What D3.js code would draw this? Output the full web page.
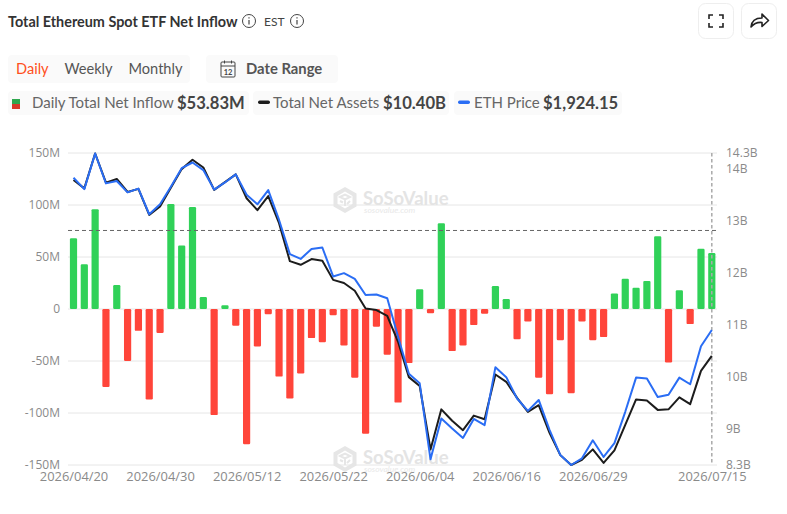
<!DOCTYPE html>
<html>
<head>
<meta charset="utf-8">
<script src="https://cdn.jsdelivr.net/npm/d3@7"></script>
<style>
html, body { margin: 0; padding: 0; background: #fff; overflow: hidden; }
text { font-family: Lato, sans-serif; }
</style>
</head>
<body>
<script>
var dates = ['2026/04/20','2026/04/21','2026/04/22','2026/04/23','2026/04/24','2026/04/27','2026/04/28','2026/04/29','2026/04/30','2026/05/01',
	'2026/05/04','2026/05/05','2026/05/06','2026/05/07','2026/05/08','2026/05/11','2026/05/12','2026/05/13','2026/05/14','2026/05/15',
	'2026/05/18','2026/05/19','2026/05/20','2026/05/21','2026/05/22','2026/05/26','2026/05/27','2026/05/28','2026/05/29','2026/06/01',
	'2026/06/02','2026/06/03','2026/06/04','2026/06/05','2026/06/08','2026/06/09','2026/06/10','2026/06/11','2026/06/12','2026/06/15',
	'2026/06/16','2026/06/17','2026/06/18','2026/06/22','2026/06/23','2026/06/24','2026/06/25','2026/06/26','2026/06/29','2026/06/30',
	'2026/07/01','2026/07/02','2026/07/06','2026/07/07','2026/07/08','2026/07/09','2026/07/10','2026/07/13','2026/07/14','2026/07/15'];

var netInflow = [68,43,96,-75,23,-50,-21,-87,-23,101,
	61,98,11.5,-102,3.5,-16,-130,-36,-5,-65,
	-86,-62,-28,-32,-6,-35,-66,-120,-17,-44,
	-90,-52,19,-4,82.5,-40.5,-35,-15.5,-4.5,22,
	9.5,-29,-12,-66,-82,-30,-81,-12,-30,-27,
	15,29,20.5,27,70,-51.5,18,-14.5,58,53.83];

var netAssets = [13.78,13.62,14.29,13.73,13.80,13.55,13.61,13.11,13.27,13.63,
	13.99,14.17,14.02,13.59,13.74,13.89,13.43,13.20,13.47,12.95,
	12.22,12.15,12.26,12.23,11.86,11.80,11.65,11.31,11.28,11.17,
	10.67,9.99,9.82,8.60,9.37,9.15,8.97,9.25,9.18,10.04,
	9.90,9.59,9.32,9.45,8.92,8.49,8.30,8.40,8.60,8.34,
	8.58,9.07,9.56,9.54,9.36,9.37,9.60,9.47,10.11,10.40];

var ethPrice = [2245,2221,2296,2233,2238,2214,2222,2168,2189,2226,
	2265,2277,2261,2220,2235,2252,2209,2189,2219,2156,
	2084,2074,2095,2098,2037,2044,2032,1998,1999,1991,
	1910,1832,1812,1652,1738,1717,1697,1737,1724,1846,
	1825,1780,1754,1777,1714,1661,1640,1654,1692,1657,
	1686,1752,1824,1822,1783,1788,1824,1810,1890,1924.15];

var dateTicks = ['2026/04/20','2026/04/30','2026/05/12','2026/05/22','2026/06/04','2026/06/16','2026/06/29','2026/07/15'];
var inflowTicks = [150,100,50,0,-50,-100,-150];
var assetTicks = [8.3,9,10,11,12,13,14,14.3];
var crosshairInflow = 75.5;

var width = 787, height = 514;
var svg = d3.select('body').append('svg').attr('width', width).attr('height', height).style('display', 'block');

var x = d3.scalePoint().domain(dates).range([73.5, 711.8]);
var yInflow = d3.scaleLinear().domain([-150, 150]).range([465, 153]);
var yAssets = d3.scaleLinear().domain([8.3, 14.3]).range([465, 153]);
var yPrice = d3.scaleLinear().domain([1640, 2297]).range([465, 153]);

// header
svg.append('text').attr('x', 8).attr('y', 26.5).attr('fill', '#333').attr('font-size', 14.4).attr('font-weight', 700).text('Total Ethereum Spot ETF Net Inflow');
svg.append('text').attr('x', 264).attr('y', 25.5).attr('fill', '#444').attr('font-size', 12).text('EST');

function infoIcon(cx, cy) {
	var g = svg.append('g').attr('transform', 'translate(' + cx + ',' + cy + ')').attr('stroke', '#444').attr('fill', 'none');
	g.append('circle').attr('r', 6.5).attr('stroke-width', 1);
	g.append('line').attr('y1', -1).attr('y2', 3.5).attr('stroke-width', 1.2);
	g.append('line').attr('y1', -3.8).attr('y2', -2.6).attr('stroke-width', 1.2);
}
infoIcon(249, 21);
infoIcon(297, 21);

// buttons top right
[698, 741].forEach(function (bx) {
	svg.append('rect').attr('x', bx + 0.5).attr('y', 3.5).attr('width', 35).attr('height', 35).attr('rx', 7).attr('fill', '#fff').attr('stroke', '#eee');
});
svg.append('path').attr('d', 'M709 19v-4h4 M719 15h4v4 M723 23v4h-4 M713 27h-4v-4').attr('fill', 'none').attr('stroke', '#222').attr('stroke-width', 1.6);
svg.append('path').attr('d', 'M751 27c0.5-5.5 4.5-9 11-9v-4l6.5 6.5-6.5 6v-4c-4.5-0.5-8 1-11 4.5z').attr('fill', 'none').attr('stroke', '#222').attr('stroke-width', 1.6).attr('stroke-linejoin', 'round');

// period pills
svg.append('rect').attr('x', 8).attr('y', 55).attr('width', 182).attr('height', 28).attr('rx', 4).attr('fill', '#fafafa');
svg.append('rect').attr('x', 206).attr('y', 55).attr('width', 132).attr('height', 28).attr('rx', 4).attr('fill', '#fafafa');
svg.append('text').attr('x', 16).attr('y', 74).attr('font-size', 14.6).attr('fill', '#ff4f20').text('Daily');
svg.append('text').attr('x', 64.5).attr('y', 74).attr('font-size', 14.6).attr('fill', '#555').text('Weekly');
svg.append('text').attr('x', 128.5).attr('y', 74).attr('font-size', 14.6).attr('fill', '#555').text('Monthly');
svg.append('text').attr('x', 246).attr('y', 74).attr('font-size', 14.8).attr('font-weight', 700).attr('fill', '#555').text('Date Range');

var cal = svg.append('g').attr('fill', 'none').attr('stroke', '#444').attr('stroke-width', 1);
cal.append('rect').attr('x', 221).attr('y', 62).attr('width', 14).attr('height', 15).attr('rx', 1);
cal.append('path').attr('d', 'M221 66h14 M224.5 60.5v3 M231.5 60.5v3');
svg.append('text').attr('x', 228).attr('y', 75).attr('text-anchor', 'middle').attr('font-size', 7.5).attr('font-weight', 700).attr('fill', '#444').text('12');

// legend pills
[[8, 241], [253, 196], [454, 168]].forEach(function (p) {
	svg.append('rect').attr('x', p[0]).attr('y', 91).attr('width', p[1]).attr('height', 24).attr('rx', 4).attr('fill', '#fafafa');
});
svg.append('rect').attr('x', 12).attr('y', 99).attr('width', 8).attr('height', 5).attr('fill', '#2fa84f');
svg.append('rect').attr('x', 12).attr('y', 104).attr('width', 8).attr('height', 5).attr('fill', '#d8392b');
svg.append('rect').attr('x', 258).attr('y', 100.5).attr('width', 12).attr('height', 3.5).attr('rx', 1.7).attr('fill', '#1c1c1c');
svg.append('rect').attr('x', 458).attr('y', 100.5).attr('width', 12).attr('height', 3.5).attr('rx', 1.7).attr('fill', '#2a6df4');

function legendText(lx, label, vx, value) {
	svg.append('text').attr('x', lx).attr('y', 108).attr('font-size', 15).attr('fill', '#666').text(label);
	svg.append('text').attr('x', vx).attr('y', 108.5).attr('font-size', 16.6).attr('font-weight', 700).attr('fill', '#444').text(value);
}
legendText(32, 'Daily Total Net Inflow', 177, '$53.83M');
legendText(273, 'Total Net Assets', 383, '$10.40B');
legendText(474, 'ETH Price', 543, '$1,924.15');

// grid
svg.append('g').selectAll('line').data(inflowTicks).enter().append('line')
	.attr('x1', 68).attr('x2', 717)
	.attr('y1', function (d) { return yInflow(d); })
	.attr('y2', function (d) { return yInflow(d); })
	.attr('stroke', '#e6e6e6').attr('stroke-width', 1);

// watermarks
function watermark(cx, cy) {
	var g = svg.append('g').attr('transform', 'translate(' + cx + ',' + cy + ')');
	g.append('path').attr('d', 'M0-13L11.5-6.5V6.5L0 13-11.5 6.5V-6.5Z M-7.5-4L0-8.5 7.5-4V4L0 8.5-7.5 4Z').attr('fill', '#e6e6e6').attr('fill-rule', 'evenodd');
	g.append('path').attr('d', 'M-5-3L0-5.5 5-3 0-0.5ZM0-0.5V6M-5 1L-2 2.5M5 1L2 4').attr('fill', 'none').attr('stroke', '#e6e6e6').attr('stroke-width', 2);
	g.append('text').attr('x', 18).attr('y', 4.5).attr('font-size', 18.5).attr('font-weight', 700).attr('fill', '#e4e4e4').text('SoSoValue');
	g.append('text').attr('x', 19).attr('y', 13).attr('font-size', 8.5).attr('font-style', 'italic').attr('fill', '#e8e8e8').text('sosovalue.com');
}
watermark(345, 200);
watermark(345, 459);

// bars
svg.append('g').selectAll('rect').data(netInflow).enter().append('rect')
	.attr('x', function (d, i) { return x(dates[i]) - 3.6; })
	.attr('y', function (d) { return Math.min(yInflow(d), yInflow(0)); })
	.attr('width', 7.2)
	.attr('height', function (d) { return Math.abs(yInflow(d) - yInflow(0)); })
	.attr('rx', 1.2)
	.attr('fill', function (d) { return d >= 0 ? '#30d158' : '#ff453a'; });

// crosshair
svg.append('line').attr('x1', 68).attr('x2', 717).attr('y1', yInflow(crosshairInflow)).attr('y2', yInflow(crosshairInflow))
	.attr('stroke', '#666').attr('stroke-width', 1).attr('stroke-dasharray', '4 3');
svg.append('line').attr('x1', x(dates[59])).attr('x2', x(dates[59])).attr('y1', 153).attr('y2', 465)
	.attr('stroke', '#aaa').attr('stroke-width', 1.5).attr('stroke-dasharray', '3.5 2.5');

// lines
var assetLine = d3.line().x(function (d, i) { return x(dates[i]); }).y(function (d) { return yAssets(d); });
var priceLine = d3.line().x(function (d, i) { return x(dates[i]); }).y(function (d) { return yPrice(d); });
svg.append('path').datum(netAssets).attr('d', assetLine).attr('fill', 'none').attr('stroke', '#1c1c1c').attr('stroke-width', 2).attr('stroke-linejoin', 'round');
svg.append('path').datum(ethPrice).attr('d', priceLine).attr('fill', 'none').attr('stroke', '#2a6df4').attr('stroke-width', 2).attr('stroke-linejoin', 'round');

// axes
function cleanAxis(g) {
	g.select('.domain').remove();
	g.selectAll('.tick line').remove();
	g.selectAll('text').attr('fill', '#8a8a8a').style('font-family', '"Open Sans", sans-serif').style('font-size', '12px');
}
svg.append('g').attr('transform', 'translate(60,0)')
	.call(d3.axisLeft(yInflow).tickValues(inflowTicks).tickSize(0).tickPadding(0).tickFormat(function (d) { return d === 0 ? '0' : d + 'M'; }))
	.call(cleanAxis);
svg.append('g').attr('transform', 'translate(726,0)')
	.call(d3.axisRight(yAssets).tickValues(assetTicks).tickSize(0).tickPadding(0).tickFormat(function (d) { return d + 'B'; }))
	.call(cleanAxis);
svg.append('g').attr('transform', 'translate(0,472)')
	.call(d3.axisBottom(x).tickValues(dateTicks).tickSize(0).tickPadding(0))
	.call(cleanAxis)
	.call(function (g) { g.selectAll('text').style('font-size', '12.9px'); });
</script>
</body>
</html>
